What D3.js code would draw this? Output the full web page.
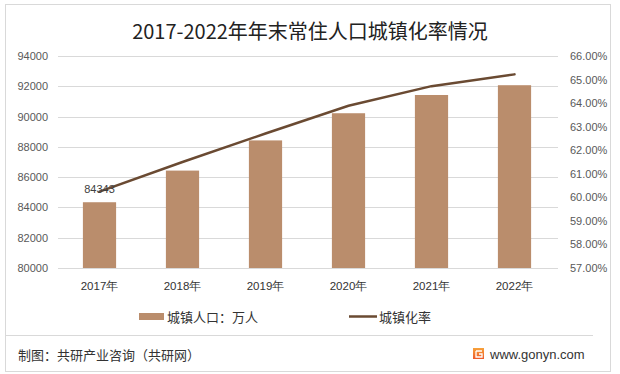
<!DOCTYPE html>
<html>
<head>
<meta charset="utf-8">
<script src="https://cdn.jsdelivr.net/npm/d3@7"></script>
<style>
body { margin: 0; background: #fff; }
svg { display: block; font-family: "Noto Sans CJK SC", "Noto Sans", sans-serif; }
</style>
</head>
<body>
<div id="chart"></div>
<script>
// chart data
const years = ["2017年", "2018年", "2019年", "2020年", "2021年", "2022年"];
const urbanPop = [84343, 86433, 88426, 90220, 91425, 92071];
const urbanRate = [60.24, 61.50, 62.71, 63.89, 64.72, 65.22];
const leftTicks = [80000, 82000, 84000, 86000, 88000, 90000, 92000, 94000];
const rightTicks = [57, 58, 59, 60, 61, 62, 63, 64, 65, 66];

const width = 620, height = 374;
const barColor = "#BA8D6C";
const lineColor = "#6A4A32";

const svg = d3.select("#chart").append("svg")
	.attr("width", width)
	.attr("height", height);

// outer frame and footer separator
svg.append("rect")
	.attr("x", 5.5).attr("y", 4.5)
	.attr("width", 605).attr("height", 367)
	.attr("fill", "none")
	.attr("stroke", "#d9d9d9");
svg.append("line")
	.attr("x1", 5.5).attr("x2", 593)
	.attr("y1", 335.5).attr("y2", 335.5)
	.attr("stroke", "#d9d9d9");

// title
svg.append("text")
	.attr("x", 310).attr("y", 39)
	.attr("text-anchor", "middle")
	.attr("font-size", 20)
	.attr("fill", "#222")
	.text("2017-2022年年末常住人口城镇化率情况");

const x = d3.scaleBand()
	.domain(years)
	.range([58, 556])
	.paddingInner(0.6)
	.paddingOuter(0.3);
const yLeft = d3.scaleLinear()
	.domain([80000, 94000])
	.range([268, 56]);
const yRight = d3.scaleLinear()
	.domain([57, 66])
	.range([268, 56]);

// gridlines
svg.append("g").selectAll("line").data(leftTicks).enter()
	.append("line")
	.attr("x1", 58).attr("x2", 558)
	.attr("y1", d => Math.round(yLeft(d)) + 0.5)
	.attr("y2", d => Math.round(yLeft(d)) + 0.5)
	.attr("stroke", "#d9d9d9");

// left axis
const leftAxis = svg.append("g")
	.attr("transform", "translate(48,0)")
	.call(d3.axisLeft(yLeft).tickValues(leftTicks).tickSize(0).tickPadding(0).tickFormat(d3.format("d")));
leftAxis.select(".domain").remove();
leftAxis.selectAll("text").attr("font-size", 11).attr("fill", "#595959")
	.attr("font-family", "Liberation Sans, Arial, sans-serif");

// right axis
const rightAxis = svg.append("g")
	.attr("transform", "translate(570,0)")
	.call(d3.axisRight(yRight).tickValues(rightTicks).tickSize(0).tickPadding(0).tickFormat(d => d.toFixed(2) + "%"));
rightAxis.select(".domain").remove();
rightAxis.selectAll("text").attr("font-size", 11).attr("fill", "#595959")
	.attr("font-family", "Liberation Sans, Arial, sans-serif");

// x axis labels
const xAxis = svg.append("g")
	.attr("transform", "translate(0,282)")
	.call(d3.axisBottom(x).tickSize(0).tickPadding(0));
xAxis.select(".domain").remove();
xAxis.selectAll("text").attr("font-size", 11.5).attr("fill", "#333");

// bars
svg.append("g").selectAll("rect").data(urbanPop).enter()
	.append("rect")
	.attr("x", (d, i) => x(years[i]))
	.attr("y", d => yLeft(d))
	.attr("width", x.bandwidth())
	.attr("height", d => yLeft(80000) - yLeft(d))
	.attr("fill", barColor);

// line
const makeLine = d3.line()
	.x((d, i) => x(years[i]) + x.bandwidth() / 2)
	.y(d => yRight(d));
svg.append("path")
	.datum(urbanRate)
	.attr("d", makeLine)
	.attr("fill", "none")
	.attr("stroke", lineColor)
	.attr("stroke-width", 2.5)
	.attr("stroke-linecap", "round");

// data label on first bar
svg.append("text")
	.attr("x", x(years[0]) + x.bandwidth() / 2)
	.attr("y", yLeft(urbanPop[0]) - 9)
	.attr("text-anchor", "middle")
	.attr("font-size", 11)
	.attr("fill", "#404040")
	.attr("font-family", "Liberation Sans, Arial, sans-serif")
	.text(urbanPop[0]);

// legend
svg.append("rect")
	.attr("x", 139).attr("y", 313)
	.attr("width", 25).attr("height", 7)
	.attr("fill", barColor);
svg.append("text")
	.attr("x", 167).attr("y", 321.5)
	.attr("font-size", 13).attr("fill", "#333")
	.text("城镇人口：万人");
svg.append("line")
	.attr("x1", 349).attr("x2", 377)
	.attr("y1", 316.5).attr("y2", 316.5)
	.attr("stroke", lineColor)
	.attr("stroke-width", 2.5);
svg.append("text")
	.attr("x", 379).attr("y", 321.5)
	.attr("font-size", 13).attr("fill", "#333")
	.text("城镇化率");

// footer
svg.append("text")
	.attr("x", 18).attr("y", 360)
	.attr("font-size", 13).attr("fill", "#333")
	.text("制图：共研产业咨询（共研网）");

const grad = svg.append("defs").append("linearGradient")
	.attr("id", "logoGrad")
	.attr("x1", 0).attr("y1", 0).attr("x2", 0).attr("y2", 1);
grad.append("stop").attr("offset", "0%").attr("stop-color", "#f7a33b");
grad.append("stop").attr("offset", "100%").attr("stop-color", "#ee5a2b");
svg.append("rect")
	.attr("x", 473).attr("y", 348)
	.attr("width", 11).attr("height", 11)
	.attr("fill", "url(#logoGrad)");
svg.append("path")
	.attr("d", "M476,351 H482 M476,351 V357 H482 V354 H479")
	.attr("fill", "none")
	.attr("stroke", "#fff")
	.attr("stroke-width", 1.3);
svg.append("text")
	.attr("x", 490).attr("y", 359)
	.attr("font-size", 13).attr("fill", "#333")
	.attr("font-family", "Liberation Sans, Arial, sans-serif")
	.text("www.gonyn.com");
</script>
</body>
</html>
